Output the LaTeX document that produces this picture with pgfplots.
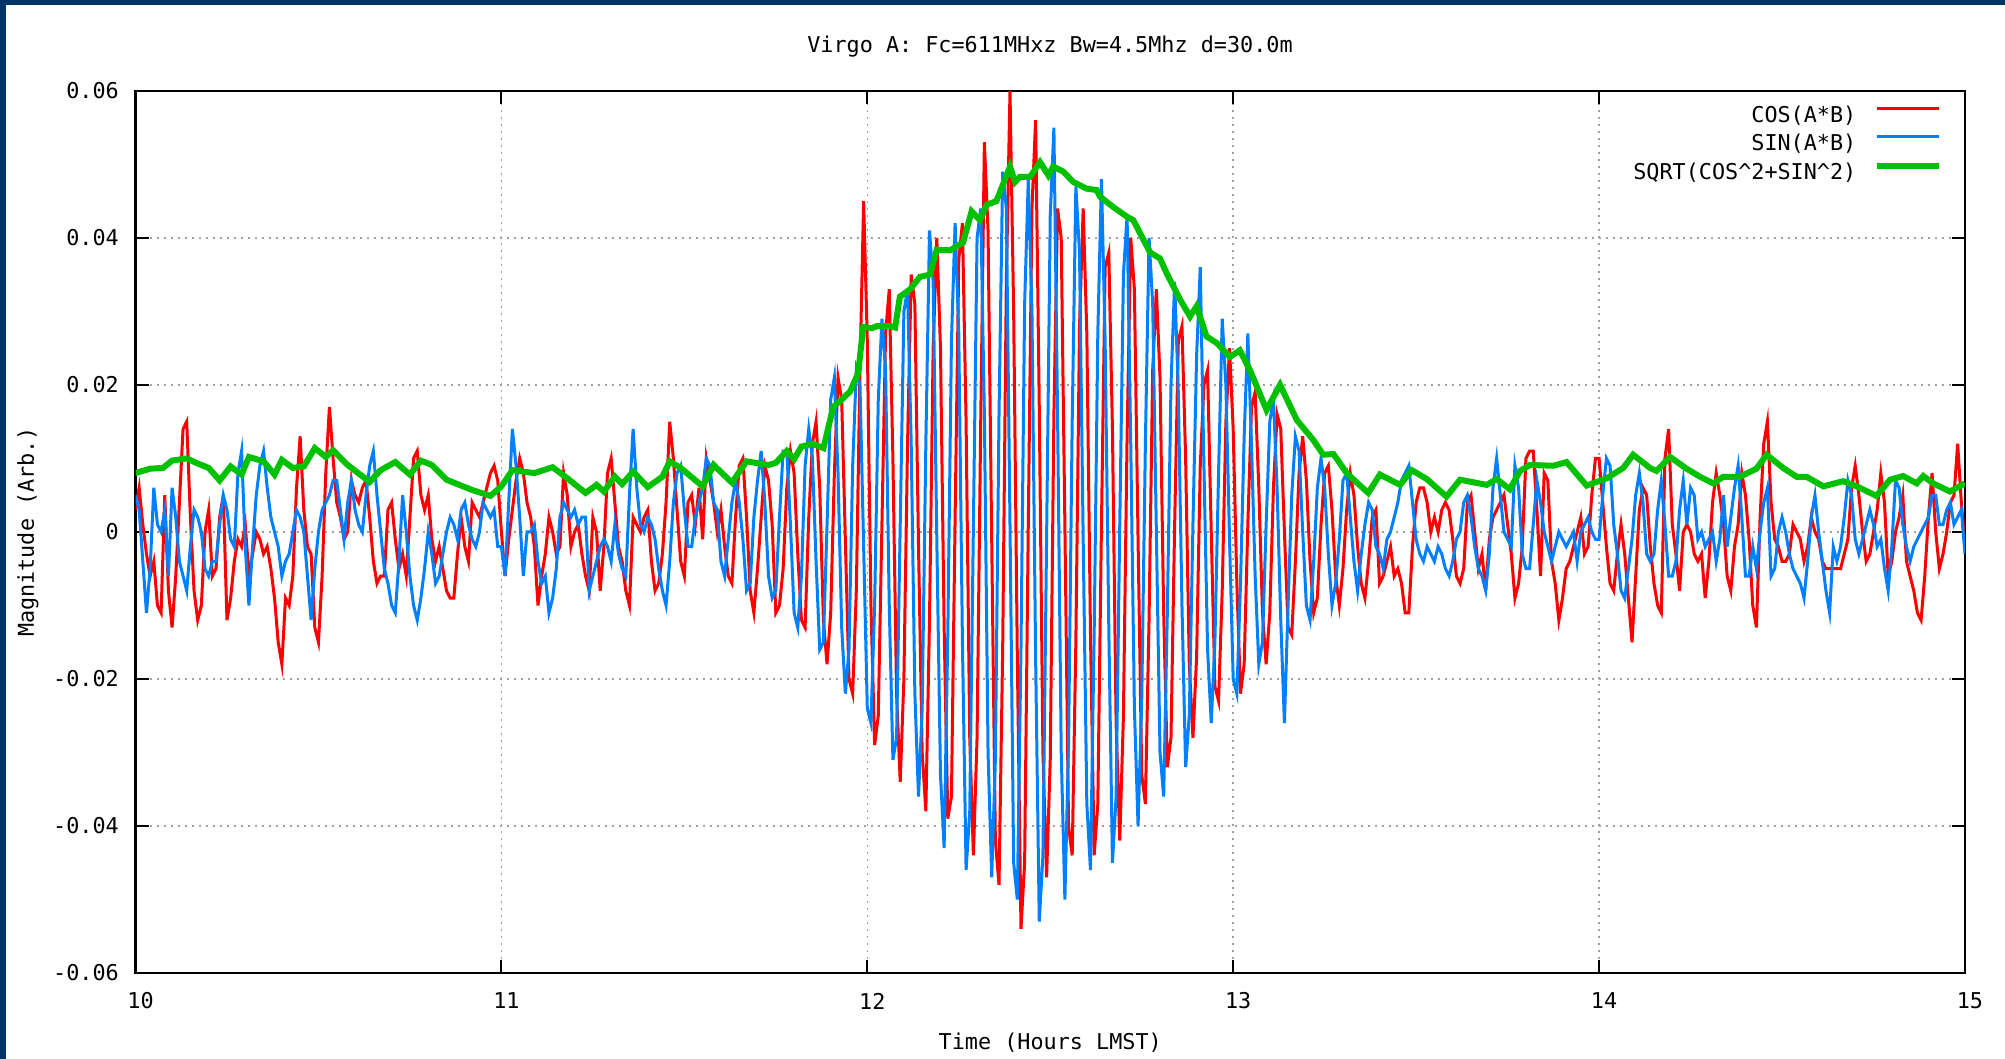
\documentclass[border=0pt]{standalone}
\usepackage{fontspec}
\setmainfont{DejaVu Sans Mono}
\usepackage{pgfplots}
\usepackage{pgfplotstable}
\pgfplotsset{compat=1.18}

\definecolor{gpred}{RGB}{255,0,0}
\definecolor{gpblue}{RGB}{0,128,255}
\definecolor{gpgreen}{RGB}{0,192,0}
\definecolor{framecol}{RGB}{0,51,102}
\definecolor{gridgray}{RGB}{160,160,160}
\newcommand{\gpfont}{\fontsize{6.2}{7.4}\selectfont}

% time (h LMST), cos and sin outputs of the correlator
\pgfplotstableread{
t c s
10.00 0.003 0.005
10.01 0.006 0.003
10.02 0.001 -0.004
10.03 -0.003 -0.011
10.04 -0.006 -0.005
10.05 -0.004 0.006
10.06 -0.010 0.001
10.07 -0.011 0.000
10.08 0.005 0.003
10.09 -0.008 -0.006
10.10 -0.013 0.006
10.11 -0.006 0.002
10.12 0.004 -0.004
10.13 0.014 -0.006
10.14 0.015 -0.008
10.15 0.002 -0.002
10.16 -0.008 0.003
10.17 -0.012 0.002
10.18 -0.010 0.000
10.19 0.000 -0.005
10.20 0.003 -0.006
10.21 -0.006 -0.004
10.22 -0.005 -0.004
10.23 0.002 0.001
10.24 0.005 0.005
10.25 -0.012 0.003
10.26 -0.009 -0.001
10.27 -0.004 -0.002
10.28 -0.001 0.008
10.29 -0.002 0.011
10.30 0.001 -0.002
10.31 -0.006 -0.010
10.32 -0.003 -0.002
10.33 0.000 0.005
10.34 -0.001 0.009
10.35 -0.003 0.011
10.36 -0.002 0.006
10.37 -0.005 0.002
10.38 -0.009 0.000
10.39 -0.015 -0.002
10.40 -0.018 -0.006
10.41 -0.009 -0.004
10.42 -0.010 -0.003
10.43 -0.006 0.000
10.44 0.006 0.003
10.45 0.013 0.002
10.46 0.003 0.000
10.47 -0.002 -0.006
10.48 -0.003 -0.012
10.49 -0.013 -0.005
10.50 -0.015 0.000
10.51 -0.006 0.003
10.52 0.008 0.004
10.53 0.017 0.005
10.54 0.010 0.007
10.55 0.004 0.007
10.56 0.002 0.003
10.57 -0.001 -0.001
10.58 0.000 0.004
10.59 0.007 0.007
10.60 0.005 0.003
10.61 0.004 0.001
10.62 0.006 0.000
10.63 0.007 0.005
10.64 0.002 0.009
10.65 -0.004 0.011
10.66 -0.007 0.005
10.67 -0.006 0.000
10.68 -0.006 -0.005
10.69 0.003 -0.007
10.70 0.004 -0.010
10.71 -0.001 -0.011
10.72 -0.005 -0.004
10.73 -0.003 0.005
10.74 -0.006 0.000
10.75 0.002 -0.006
10.76 0.010 -0.010
10.77 0.011 -0.012
10.78 0.005 -0.009
10.79 0.003 -0.005
10.80 0.005 0.000
10.81 -0.001 -0.003
10.82 -0.004 -0.007
10.83 -0.002 -0.006
10.84 -0.005 -0.003
10.85 -0.008 0.000
10.86 -0.009 0.002
10.87 -0.009 0.001
10.88 -0.003 -0.001
10.89 0.002 0.003
10.90 -0.002 0.004
10.91 -0.004 0.001
10.92 0.004 -0.001
10.93 0.003 -0.002
10.94 0.002 0.000
10.95 0.004 0.004
10.96 0.006 0.003
10.97 0.008 0.002
10.98 0.009 0.003
10.99 0.007 -0.002
11.00 0.000 -0.002
11.01 -0.006 -0.006
11.02 -0.001 0.004
11.03 0.003 0.014
11.04 0.007 0.009
11.05 0.010 0.002
11.06 0.008 -0.006
11.07 0.004 0.000
11.08 0.002 0.000
11.09 -0.002 0.001
11.10 -0.010 -0.004
11.11 -0.006 -0.007
11.12 -0.003 -0.006
11.13 0.002 -0.011
11.14 0.000 -0.009
11.15 -0.003 -0.005
11.16 -0.002 0.002
11.17 0.008 0.004
11.18 0.005 0.003
11.19 -0.002 0.002
11.20 0.000 0.003
11.21 0.001 0.001
11.22 -0.003 0.002
11.23 -0.006 0.002
11.24 -0.008 -0.008
11.25 0.002 -0.006
11.26 0.000 -0.004
11.27 -0.008 -0.002
11.28 -0.002 -0.001
11.29 0.008 -0.002
11.30 0.010 -0.004
11.31 0.004 0.001
11.32 -0.002 -0.003
11.33 -0.004 -0.005
11.34 -0.008 -0.006
11.35 -0.010 0.005
11.36 0.002 0.014
11.37 0.001 0.006
11.38 0.000 0.001
11.39 0.002 0.000
11.40 0.003 0.002
11.41 -0.004 0.001
11.42 -0.008 -0.001
11.43 -0.007 -0.005
11.44 -0.003 -0.008
11.45 0.004 -0.010
11.46 0.015 -0.004
11.47 0.010 0.004
11.48 0.003 0.008
11.49 -0.004 0.009
11.50 -0.006 0.003
11.51 0.004 -0.002
11.52 0.005 -0.002
11.53 0.001 0.002
11.54 0.006 0.004
11.55 -0.001 0.006
11.56 0.010 0.010
11.57 0.007 0.009
11.58 0.004 0.004
11.59 0.000 0.003
11.60 0.003 -0.004
11.61 -0.002 -0.006
11.62 -0.006 -0.001
11.63 -0.007 0.004
11.64 0.002 0.007
11.65 0.009 0.004
11.66 0.010 -0.001
11.67 0.002 -0.008
11.68 -0.008 -0.007
11.69 -0.011 0.002
11.70 -0.005 0.007
11.71 0.002 0.011
11.72 0.009 0.004
11.73 0.007 -0.006
11.74 0.001 -0.009
11.75 -0.011 -0.008
11.76 -0.010 0.002
11.77 -0.005 0.011
11.78 0.006 0.011
11.79 0.011 0.001
11.80 0.008 -0.011
11.81 -0.003 -0.013
11.82 -0.012 -0.006
11.83 -0.013 0.009
11.84 0.002 0.014
11.85 0.012 0.010
11.86 0.015 -0.004
11.87 0.006 -0.016
11.88 -0.012 -0.015
11.89 -0.018 0.001
11.90 -0.011 0.018
11.91 0.008 0.021
11.92 0.021 0.008
11.93 0.018 -0.013
11.94 -0.001 -0.022
11.95 -0.020 -0.016
11.96 -0.022 0.009
11.97 -0.008 0.022
11.98 0.022 0.020
11.99 0.045 -0.002
12.00 0.026 -0.024
12.01 -0.010 -0.026
12.02 -0.029 -0.010
12.03 -0.025 0.018
12.04 0.001 0.029
12.05 0.027 0.022
12.06 0.033 -0.010
12.07 0.010 -0.031
12.08 -0.022 -0.028
12.09 -0.034 0.001
12.10 -0.020 0.030
12.11 0.012 0.033
12.12 0.035 0.012
12.13 0.031 -0.022
12.14 -0.002 -0.036
12.15 -0.030 -0.024
12.16 -0.038 0.012
12.17 -0.012 0.041
12.18 0.025 0.034
12.19 0.040 -0.001
12.20 0.025 -0.033
12.21 -0.013 -0.043
12.22 -0.039 -0.014
12.23 -0.036 0.026
12.24 0.002 0.042
12.25 0.037 0.027
12.26 0.042 -0.015
12.27 0.015 -0.046
12.28 -0.028 -0.038
12.29 -0.044 0.001
12.30 -0.028 0.040
12.31 0.015 0.044
12.32 0.053 0.016
12.33 0.041 -0.030
12.34 -0.001 -0.047
12.35 -0.042 -0.031
12.36 -0.048 0.016
12.37 -0.016 0.049
12.38 0.034 0.044
12.39 0.060 0.001
12.40 0.030 -0.045
12.41 -0.017 -0.050
12.42 -0.054 -0.016
12.43 -0.045 0.031
12.44 0.001 0.048
12.45 0.044 0.030
12.46 0.056 -0.017
12.47 0.017 -0.053
12.48 -0.030 -0.044
12.49 -0.047 -0.001
12.50 -0.031 0.043
12.51 0.016 0.055
12.52 0.044 0.016
12.53 0.040 -0.030
12.54 0.001 -0.050
12.55 -0.040 -0.029
12.56 -0.044 0.015
12.57 -0.015 0.047
12.58 0.028 0.038
12.59 0.044 -0.001
12.60 0.027 -0.037
12.61 -0.014 -0.046
12.62 -0.044 -0.014
12.63 -0.037 0.027
12.64 0.001 0.048
12.65 0.036 0.026
12.66 0.038 -0.013
12.67 0.014 -0.045
12.68 -0.026 -0.036
12.69 -0.042 0.001
12.70 -0.025 0.035
12.71 0.013 0.043
12.72 0.040 0.012
12.73 0.033 -0.024
12.74 -0.001 -0.040
12.75 -0.033 -0.023
12.76 -0.037 0.012
12.77 -0.012 0.040
12.78 0.022 0.031
12.79 0.033 0.000
12.80 0.021 -0.030
12.81 -0.011 -0.036
12.82 -0.032 -0.011
12.83 -0.028 0.020
12.84 0.001 0.034
12.85 0.026 0.019
12.86 0.028 -0.010
12.87 0.010 -0.032
12.88 -0.018 -0.025
12.89 -0.028 0.001
12.90 -0.017 0.024
12.91 0.009 0.036
12.92 0.020 0.009
12.93 0.022 -0.016
12.94 0.000 -0.026
12.95 -0.021 -0.015
12.96 -0.023 0.008
12.97 -0.008 0.029
12.98 0.015 0.020
12.99 0.025 -0.001
13.00 0.014 -0.020
13.01 -0.007 -0.022
13.02 -0.022 -0.007
13.03 -0.018 0.013
13.04 0.001 0.027
13.05 0.017 0.012
13.06 0.019 -0.006
13.07 0.006 -0.018
13.08 -0.011 -0.015
13.09 -0.018 0.001
13.10 -0.011 0.015
13.11 0.006 0.018
13.12 0.016 0.006
13.13 0.014 -0.012
13.14 0.000 -0.026
13.15 -0.013 -0.010
13.16 -0.014 0.005
13.17 -0.004 0.013
13.18 0.008 0.011
13.19 0.013 0.000
13.20 0.007 -0.010
13.21 -0.004 -0.012
13.22 -0.011 -0.004
13.23 -0.009 0.006
13.24 0.001 0.010
13.25 0.008 0.006
13.26 0.009 -0.003
13.27 0.003 -0.010
13.28 -0.006 -0.007
13.29 -0.010 -0.001
13.30 -0.005 0.007
13.31 0.003 0.008
13.32 0.008 0.002
13.33 0.005 -0.004
13.34 -0.002 -0.008
13.35 -0.007 -0.003
13.36 -0.009 0.001
13.37 -0.004 0.004
13.38 0.002 0.003
13.39 0.003 -0.002
13.40 -0.007 -0.003
13.41 -0.006 -0.005
13.42 -0.004 -0.001
13.43 -0.002 0.000
13.44 -0.006 0.002
13.45 -0.005 0.004
13.46 -0.007 0.007
13.47 -0.011 0.008
13.48 -0.011 0.009
13.49 -0.002 0.004
13.50 0.004 -0.001
13.51 0.006 -0.003
13.52 0.006 -0.004
13.53 0.004 -0.002
13.54 0.000 -0.003
13.55 0.002 -0.004
13.56 0.000 -0.002
13.57 0.003 -0.003
13.58 0.004 -0.005
13.59 0.003 -0.006
13.60 -0.001 -0.004
13.61 -0.006 -0.001
13.62 -0.007 0.000
13.63 -0.005 0.004
13.64 0.004 0.005
13.65 0.005 0.002
13.66 0.000 -0.002
13.67 -0.005 -0.005
13.68 -0.003 -0.006
13.69 -0.008 -0.008
13.70 -0.001 -0.003
13.71 0.002 0.006
13.72 0.003 0.010
13.73 0.004 0.005
13.74 0.005 0.000
13.75 0.001 -0.001
13.76 -0.003 -0.002
13.77 -0.009 0.009
13.78 -0.007 0.006
13.79 -0.002 -0.003
13.80 0.010 -0.005
13.81 0.011 -0.005
13.82 0.011 0.001
13.83 0.003 0.007
13.84 -0.006 0.004
13.85 0.008 0.000
13.86 0.007 -0.002
13.87 -0.004 -0.004
13.88 -0.007 -0.002
13.89 -0.012 0.000
13.90 -0.009 -0.001
13.91 -0.005 -0.002
13.92 -0.004 -0.001
13.93 -0.002 0.000
13.94 0.000 -0.004
13.95 0.002 0.000
13.96 -0.003 0.001
13.97 -0.002 0.002
13.98 0.005 0.000
13.99 0.010 -0.001
14.00 0.010 -0.001
14.01 0.004 0.005
14.02 -0.002 0.010
14.03 -0.007 0.009
14.04 -0.008 0.001
14.05 -0.003 -0.003
14.06 0.001 -0.008
14.07 -0.003 -0.009
14.08 -0.009 -0.005
14.09 -0.015 -0.001
14.10 -0.006 0.005
14.11 0.003 0.008
14.12 0.006 0.004
14.13 0.005 -0.003
14.14 -0.002 -0.004
14.15 -0.007 -0.003
14.16 -0.010 0.003
14.17 -0.011 0.007
14.18 0.010 0.001
14.19 0.014 -0.006
14.20 0.001 -0.006
14.21 -0.003 -0.004
14.22 -0.008 0.003
14.23 0.000 0.007
14.24 0.001 0.001
14.25 0.000 0.006
14.26 -0.003 0.005
14.27 -0.004 -0.001
14.28 -0.003 0.000
14.29 -0.009 -0.002
14.30 -0.004 -0.001
14.31 0.004 0.000
14.32 0.008 -0.004
14.33 0.005 -0.001
14.34 0.001 0.005
14.35 -0.006 -0.002
14.36 -0.008 0.002
14.37 -0.002 0.006
14.38 0.001 0.009
14.39 0.008 0.002
14.40 0.005 -0.006
14.41 -0.001 -0.006
14.42 -0.010 -0.002
14.43 -0.013 -0.005
14.44 0.002 0.000
14.45 0.012 0.004
14.46 0.015 0.006
14.47 0.004 -0.006
14.48 -0.001 -0.005
14.49 -0.002 0.000
14.50 -0.004 0.002
14.51 -0.004 0.000
14.52 -0.003 -0.003
14.53 0.001 -0.005
14.54 0.000 -0.006
14.55 -0.001 -0.007
14.56 -0.004 -0.009
14.57 -0.002 -0.004
14.58 0.002 0.002
14.59 0.000 0.005
14.60 -0.001 0.000
14.61 -0.004 -0.004
14.62 -0.005 -0.008
14.63 -0.005 -0.011
14.64 -0.005 -0.002
14.65 -0.005 -0.004
14.66 -0.005 -0.002
14.67 -0.003 0.002
14.68 -0.001 0.007
14.69 0.006 0.005
14.70 0.009 -0.001
14.71 0.005 -0.003
14.72 0.000 -0.001
14.73 -0.004 0.001
14.74 -0.003 0.003
14.75 0.000 0.001
14.76 0.003 -0.002
14.77 0.008 -0.001
14.78 0.004 -0.005
14.79 -0.006 -0.008
14.80 -0.004 -0.002
14.81 0.000 0.007
14.82 0.002 0.006
14.83 0.005 0.001
14.84 -0.004 -0.002
14.85 -0.006 -0.004
14.86 -0.008 -0.002
14.87 -0.011 -0.001
14.88 -0.012 0.000
14.89 -0.006 0.001
14.90 0.002 0.002
14.91 0.008 0.005
14.92 0.000 0.005
14.93 -0.005 0.001
14.94 -0.003 0.001
14.95 0.000 0.003
14.96 0.004 0.004
14.97 0.005 0.001
14.98 0.012 0.002
14.99 0.004 0.003
15.00 -0.002 -0.003
}\fringes

% smoothed magnitude
\pgfplotstableread{
t m
10.000 0.0080
10.040 0.0086
10.075 0.0087
10.100 0.0097
10.140 0.0100
10.170 0.0093
10.200 0.0087
10.230 0.0070
10.260 0.0089
10.290 0.0078
10.310 0.0102
10.350 0.0096
10.380 0.0078
10.400 0.0098
10.430 0.0087
10.460 0.0089
10.490 0.0114
10.520 0.0102
10.540 0.0111
10.580 0.0091
10.640 0.0068
10.670 0.0084
10.710 0.0095
10.750 0.0078
10.780 0.0097
10.810 0.0091
10.850 0.0071
10.920 0.0057
10.970 0.0049
11.000 0.0062
11.030 0.0084
11.090 0.0080
11.140 0.0088
11.180 0.0073
11.230 0.0053
11.260 0.0064
11.280 0.0055
11.310 0.0075
11.330 0.0065
11.360 0.0082
11.400 0.0061
11.440 0.0075
11.460 0.0096
11.490 0.0087
11.550 0.0062
11.580 0.0091
11.630 0.0067
11.670 0.0096
11.730 0.0091
11.750 0.0094
11.780 0.0110
11.800 0.0099
11.820 0.0116
11.850 0.0120
11.880 0.0114
11.907 0.0170
11.930 0.0180
11.953 0.0191
11.975 0.0216
11.989 0.0279
12.012 0.0277
12.026 0.0280
12.062 0.0280
12.076 0.0278
12.089 0.0320
12.117 0.0330
12.144 0.0347
12.171 0.0350
12.190 0.0384
12.226 0.0383
12.262 0.0394
12.285 0.0436
12.308 0.0424
12.326 0.0445
12.353 0.0450
12.390 0.0497
12.404 0.0476
12.417 0.0483
12.445 0.0483
12.472 0.0503
12.495 0.0485
12.508 0.0497
12.536 0.0490
12.563 0.0476
12.599 0.0467
12.627 0.0465
12.636 0.0456
12.672 0.0442
12.709 0.0429
12.727 0.0424
12.773 0.0380
12.800 0.0372
12.818 0.0352
12.855 0.0316
12.882 0.0293
12.900 0.0307
12.927 0.0266
12.955 0.0257
12.991 0.0238
13.018 0.0247
13.046 0.0220
13.091 0.0166
13.128 0.0200
13.174 0.0152
13.219 0.0125
13.246 0.0105
13.274 0.0106
13.310 0.0080
13.369 0.0053
13.401 0.0078
13.456 0.0064
13.488 0.0084
13.529 0.0072
13.583 0.0048
13.620 0.0071
13.693 0.0064
13.720 0.0072
13.756 0.0058
13.784 0.0083
13.811 0.0091
13.875 0.0090
13.911 0.0095
13.966 0.0063
14.021 0.0073
14.066 0.0087
14.093 0.0105
14.139 0.0087
14.157 0.0083
14.194 0.0102
14.239 0.0086
14.276 0.0075
14.312 0.0066
14.339 0.0075
14.385 0.0075
14.430 0.0086
14.458 0.0105
14.503 0.0087
14.540 0.0075
14.567 0.0075
14.613 0.0062
14.667 0.0069
14.704 0.0062
14.758 0.0049
14.795 0.0071
14.831 0.0076
14.868 0.0066
14.886 0.0076
14.913 0.0066
14.959 0.0055
15.000 0.0066
}\magn

\begin{document}
\begin{tikzpicture}
\useasboundingbox (0,0) rectangle (20.05,10.59);
\fill[framecol] (0,0) rectangle (20.05,10.59);
\fill[white] (0.06,0) rectangle (20.05,10.54);
\begin{axis}[
  at={(1.355cm,0.86cm)}, anchor=south west,
  scale only axis, width=18.295cm, height=8.822cm,
  xmin=10, xmax=15, ymin=-0.06, ymax=0.06,
  scaled x ticks=false, scaled y ticks=false,
  xtick={10,11,12,13,14,15},
  xticklabels={10,11,12,13,14,15},
  ytick={-0.06,-0.04,-0.02,0,0.02,0.04,0.06},
  yticklabels={-0.06,-0.04,-0.02,0,0.02,0.04,0.06},
  tick align=inside, tick pos=both, ticklabel pos=left,
  major tick length=0.13cm,
  every tick/.style={black, line width=0.02cm},
  axis line style={black, line width=0.025cm},
  tick label style={font=\gpfont},
  xticklabel style={anchor=center, inner sep=0pt, yshift=-0.28cm, xshift=0.05cm},
  yticklabel style={anchor=east, inner sep=0pt, xshift=-0.16cm},
  grid=major,
  major grid style={gridgray, line width=0.015cm, dash pattern=on 0.02cm off 0.05cm},
  xlabel={Time (Hours LMST)},
  xlabel style={at={(0.5,-0.0793)}, anchor=center, font=\gpfont},
  ylabel={Magnitude (Arb.)},
  ylabel style={at={(-0.0588,0.5)}, anchor=center, font=\gpfont},
  legend style={at={(0.988,0.983)}, anchor=north east, draw=none, fill=none,
    inner sep=0pt, font=\gpfont, row sep=0.08cm, column sep=0.18cm,
    nodes={inner sep=0pt, text height=0.16cm, text depth=0.04cm}},
  legend cell align=right, legend plot pos=right,
  legend image code/.code={\draw[#1] (0cm,0.08cm) -- (0.62cm,0.08cm);},
]
\addplot[gpred, line width=0.03cm] table[x=t, y=c]{\fringes};
\addlegendentry{COS(A*B)}
\addplot[gpblue, line width=0.03cm] table[x=t, y=s]{\fringes};
\addlegendentry{SIN(A*B)}
\addplot[gpgreen, line width=0.06cm] table[x=t, y=m]{\magn};
\addlegendentry{SQRT(COS\textasciicircum2+SIN\textasciicircum2)}
\end{axis}
% chart title, centred over the plot area
\node[font=\gpfont, anchor=center] at (10.50,10.12) {Virgo A: Fc=611MHxz Bw=4.5Mhz d=30.0m};
\end{tikzpicture}
\end{document}
